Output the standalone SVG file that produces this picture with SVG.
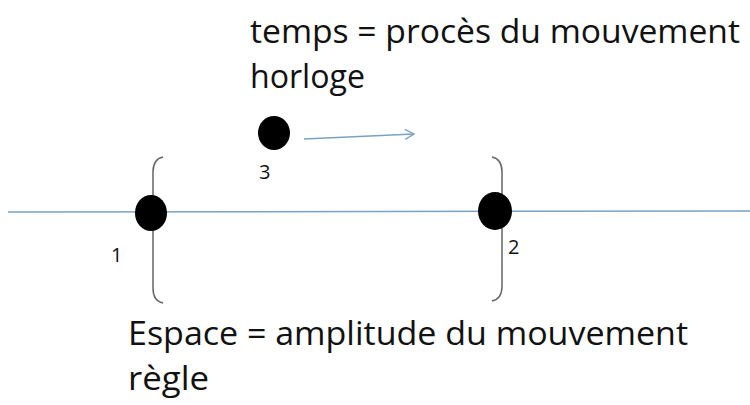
<svg xmlns="http://www.w3.org/2000/svg" width="750" height="405" viewBox="0 0 750 405">
<style>
.big{font-family:"Open Sans","Liberation Sans",sans-serif;font-size:33px;fill:#111}
.num{font-family:"Open Sans","Liberation Sans",sans-serif;font-size:20px;fill:#111}
.br{fill:none;stroke:#666;stroke-width:1.5}
.ax{stroke:#7aa3c2;stroke-width:1.5;fill:none}
</style>
<defs>
<marker id="ah" markerWidth="12" markerHeight="12" refX="10" refY="6" orient="auto" markerUnits="userSpaceOnUse">
<path d="M1,1 L10,6 L1,11" fill="none" stroke="#7aa3c2" stroke-width="1.3"/>
</marker>
</defs>
<rect width="750" height="405" fill="#fff"/>
<g id="connectors">
<line class="ax" x1="8" y1="212" x2="750" y2="211"/>
<line class="ax" x1="304" y1="139" x2="414" y2="134" marker-end="url(#ah)"/>
</g>
<g id="bracket-left"><path class="br" d="M163,157 Q153,159 153,172 L153,288 Q153,301 163,303"/></g>
<g id="bracket-right"><path class="br" d="M492,157 Q502,159 502,172 L502,286 Q502,299 492,301"/></g>
<g id="node1"><ellipse cx="151" cy="213" rx="16" ry="18" fill="#000"/><text class="num" x="111" y="262">1</text></g>
<g id="node2"><ellipse cx="495" cy="211" rx="17" ry="19" fill="#000"/><text class="num" x="508" y="254">2</text></g>
<g id="node3"><ellipse cx="274" cy="133" rx="16" ry="17" fill="#000"/><text class="num" x="259" y="179">3</text></g>
<g id="title-top">
<text class="big" x="250" y="43" textLength="490" lengthAdjust="spacingAndGlyphs">temps = procès du mouvement</text>
<text class="big" x="250" y="88" textLength="115" lengthAdjust="spacingAndGlyphs">horloge</text>
</g>
<g id="title-bottom">
<text class="big" x="128" y="345" textLength="560" lengthAdjust="spacingAndGlyphs">Espace = amplitude du mouvement</text>
<text class="big" x="128" y="390" textLength="81" lengthAdjust="spacingAndGlyphs">règle</text>
</g>
</svg>
